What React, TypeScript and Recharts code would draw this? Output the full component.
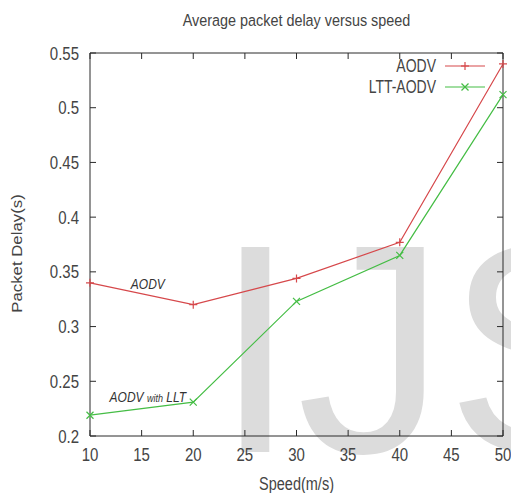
import React from 'react';
import { LineChart, Line, XAxis, YAxis, Legend, ReferenceDot, Customized } from 'recharts';

const speeds = [10, 20, 30, 40, 50];
const aodvDelay = [0.34, 0.32, 0.344, 0.377, 0.54];
const lttDelay = [0.219, 0.231, 0.323, 0.365, 0.512];
const xTicks = [10, 15, 20, 25, 30, 35, 40, 45, 50];
const yTicks = [0.2, 0.25, 0.3, 0.35, 0.4, 0.45, 0.5, 0.55];
const seriesNames = ['AODV', 'LTT-AODV'];
const titleText = 'Average packet delay versus speed';
const xLabel = 'Speed(m/s)';
const yLabel = 'Packet Delay(s)';

const data = speeds.map((s, i) => ({ speed: s, aodv: aodvDelay[i], ltt: lttDelay[i] }));

const RED = '#d6484b';
const GREEN = '#45bd45';
const AXIS = '#2a2a2a';
const TXT = '#444444';
const FONT = '"Liberation Sans", Arial, sans-serif';
const SY = 1.25;

function SText({ x, y, size, anchor = 'start', children, sx = 1, sy = SY, rotate = 0, fill = TXT, italic = false }: any) {
  return (
    <text
      x={0}
      y={0}
      transform={`translate(${x},${y}) rotate(${rotate}) scale(${sx},${sy})`}
      textAnchor={anchor}
      fontSize={size}
      fontFamily={FONT}
      fontStyle={italic ? 'italic' : 'normal'}
      fill={fill}
    >
      {children}
    </text>
  );
}

const BottomTick = (p: any) => {
  const { x, y, payload } = p;
  return (
    <g>
      <line x1={x} y1={y} x2={x} y2={y - 6} stroke={AXIS} strokeWidth={1} />
      <SText x={x} y={y + 25} size={15} anchor="middle">{payload.value}</SText>
    </g>
  );
};
const TopTick = (p: any) => {
  const { x, y } = p;
  return <line x1={x} y1={y} x2={x} y2={y + 6} stroke={AXIS} strokeWidth={1} />;
};
const LeftTick = (p: any) => {
  const { x, y, payload } = p;
  return (
    <g>
      <line x1={x} y1={y} x2={x + 6} y2={y} stroke={AXIS} strokeWidth={1} />
      <SText x={x - 11} y={y + 6.5} size={15} anchor="end">{String(payload.value)}</SText>
    </g>
  );
};
const RightTick = (p: any) => {
  const { x, y } = p;
  return <line x1={x} y1={y} x2={x - 6} y2={y} stroke={AXIS} strokeWidth={1} />;
};

const PlusDot = (p: any) => {
  const { cx, cy } = p;
  if (cx == null || cy == null) return null;
  return (
    <g>
      <line x1={cx - 4} y1={cy} x2={cx + 4} y2={cy} stroke={RED} strokeWidth={1.2} />
      <line x1={cx} y1={cy - 4} x2={cx} y2={cy + 4} stroke={RED} strokeWidth={1.2} />
    </g>
  );
};
const CrossDot = (p: any) => {
  const { cx, cy } = p;
  if (cx == null || cy == null) return null;
  return (
    <g>
      <line x1={cx - 3.5} y1={cy - 3.5} x2={cx + 3.5} y2={cy + 3.5} stroke={GREEN} strokeWidth={1.2} />
      <line x1={cx - 3.5} y1={cy + 3.5} x2={cx + 3.5} y2={cy - 3.5} stroke={GREEN} strokeWidth={1.2} />
    </g>
  );
};

const XLabel = (p: any) => {
  const vb = p.viewBox || {};
  return <SText x={vb.x + vb.width / 2} y={vb.y + 54} size={14.5} anchor="middle">{xLabel}</SText>;
};
const YLabel = (p: any) => {
  const vb = p.viewBox || {};
  return (
    <SText x={vb.x + vb.width - 68} y={vb.y + vb.height / 2 + 9} size={14} anchor="middle" rotate={-90} sx={1.2} sy={1}>
      {yLabel}
    </SText>
  );
};
const TitleLabel = (p: any) => {
  const vb = p.viewBox || {};
  return <SText x={vb.x + vb.width / 2} y={vb.y + vb.height - 27} size={14.4} anchor="middle" sy={1.15}>{titleText}</SText>;
};

const AnnoAodv = (p: any) => {
  const vb = p.viewBox || {};
  return <SText x={vb.x} y={vb.y} size={12} anchor="middle" italic fill="#333">AODV</SText>;
};
const AnnoLlt = (p: any) => {
  const vb = p.viewBox || {};
  return (
    <text
      x={0}
      y={0}
      transform={`translate(${vb.x},${vb.y}) scale(1,${SY})`}
      textAnchor="middle"
      fontFamily={FONT}
      fontStyle="italic"
      fill="#333"
    >
      <tspan fontSize={12}>AODV </tspan>
      <tspan fontSize={9}>with</tspan>
      <tspan fontSize={12}> LLT</tspan>
    </text>
  );
};

const LegendContent = () => {
  const rows = [
    { name: seriesNames[0], color: RED, y: 72, mark: 'plus' },
    { name: seriesNames[1], color: GREEN, y: 93, mark: 'cross' },
  ];
  return (
    <svg width={511} height={110} style={{ position: 'absolute', left: 0, top: 0, overflow: 'visible' }}>
      {rows.map((r) => (
        <g key={r.name}>
          <SText x={436} y={r.y} size={14} anchor="end">{r.name}</SText>
          <line x1={445} y1={r.y - 6} x2={485} y2={r.y - 6} stroke={r.color} strokeWidth={1.2} />
          {r.mark === 'plus' ? (
            <g>
              <line x1={461} y1={r.y - 6} x2={469} y2={r.y - 6} stroke={r.color} strokeWidth={1.2} />
              <line x1={465} y1={r.y - 10} x2={465} y2={r.y - 2} stroke={r.color} strokeWidth={1.2} />
            </g>
          ) : (
            <g>
              <line x1={461.5} y1={r.y - 9.5} x2={468.5} y2={r.y - 2.5} stroke={r.color} strokeWidth={1.2} />
              <line x1={461.5} y1={r.y - 2.5} x2={468.5} y2={r.y - 9.5} stroke={r.color} strokeWidth={1.2} />
            </g>
          )}
        </g>
      ))}
    </svg>
  );
};

const Watermark = () => (
  <text x={214} y={452} fontSize={298} fontFamily={FONT} fill="#dcdcdc">
    IJS
  </text>
);

export default function App() {
  return (
    <div style={{ position: 'absolute', left: 0, top: 0, width: 511, height: 493, background: '#fff' }}>
      <LineChart
        width={511}
        height={493}
        data={data}
        margin={{ top: 52, right: 7, bottom: 56, left: 89 }}
        style={{ fontFamily: FONT }}
      >
        <XAxis
          dataKey="speed"
          type="number"
          domain={[10, 50]}
          ticks={xTicks}
          height={1}
          tickSize={0}
          tickMargin={0}
          tickLine={false}
          tick={<BottomTick />}
          axisLine={{ stroke: AXIS, strokeWidth: 1 }}
          interval={0}
          label={<XLabel />}
        />
        <XAxis
          xAxisId="top"
          orientation="top"
          dataKey="speed"
          type="number"
          domain={[10, 50]}
          ticks={xTicks}
          height={1}
          tickSize={0}
          tickMargin={0}
          tickLine={false}
          tick={<TopTick />}
          axisLine={{ stroke: AXIS, strokeWidth: 1 }}
          interval={0}
          label={<TitleLabel />}
        />
        <YAxis
          type="number"
          domain={[0.2, 0.55]}
          ticks={yTicks}
          width={1}
          tickSize={0}
          tickMargin={0}
          tickLine={false}
          tick={<LeftTick />}
          axisLine={{ stroke: AXIS, strokeWidth: 1 }}
          interval={0}
          allowDataOverflow
          label={<YLabel />}
        />
        <YAxis
          yAxisId="right"
          orientation="right"
          type="number"
          domain={[0.2, 0.55]}
          ticks={yTicks}
          width={1}
          tickSize={0}
          tickMargin={0}
          tickLine={false}
          tick={<RightTick />}
          axisLine={{ stroke: AXIS, strokeWidth: 1 }}
          interval={0}
          allowDataOverflow
        />
        <Customized component={Watermark} />
        <Legend
          layout="horizontal"
          verticalAlign="middle"
          align="center"
          content={<LegendContent />}
          wrapperStyle={{ position: 'absolute', left: 0, top: 0, width: 511, height: 110, pointerEvents: 'none' }}
        />
        <Line
          name={seriesNames[0]}
          dataKey="aodv"
          stroke={RED}
          strokeWidth={1.2}
          dot={<PlusDot />}
          activeDot={false}
          isAnimationActive={false}
        />
        <Line
          name={seriesNames[1]}
          dataKey="ltt"
          stroke={GREEN}
          strokeWidth={1.2}
          dot={<CrossDot />}
          activeDot={false}
          isAnimationActive={false}
        />
        <ReferenceDot x={15.6} y={0.334} r={0} fill="none" stroke="none" label={<AnnoAodv />} />
        <ReferenceDot x={15.6} y={0.231} r={0} fill="none" stroke="none" label={<AnnoLlt />} />
      </LineChart>
    </div>
  );
}
